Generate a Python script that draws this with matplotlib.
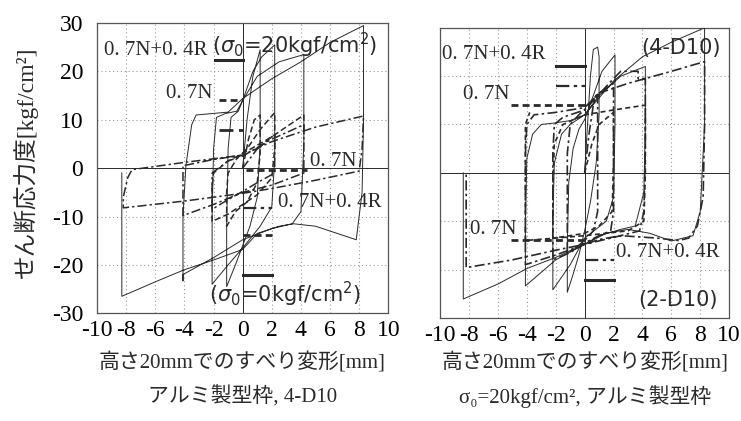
"""Shear stress vs slip hysteresis loops, two panels (aluminium formwork)."""

import matplotlib

matplotlib.use("Agg")
import matplotlib.pyplot as plt

plt.rcParams["axes.unicode_minus"] = False

INK = "#2a2a2a"
GRID = "#9a9a9a"
SERIF_JP = ["Liberation Serif", "DejaVu Serif", "Noto Sans CJK JP"]

X_TICKS = [-10, -8, -6, -4, -2, 0, 2, 4, 6, 8, 10]
X_TICK_LABELS = ["-10", "-8", "-6", "-4", "-2", "0", "2", "4", "6", "8", "10"]
Y_TICKS = [-30, -20, -10, 0, 10, 20, 30]
Y_TICK_LABELS = ["-30", "-20", "-10", "0", "10", "20", "30"]

# left panel, thin solid loops (sigma0 = 20, 0.7N+0.4R)
LEFT_SOLID = [
    (0, 0), (0.3, 10), (0.7, 19), (1.2, 24.5),
    (1.2, 5), (1.0, -6), (0.5, -12), (0, -16), (-0.5, -20), (-1.1, -24.5),
    (-1.1, -12), (-1.0, 4), (-0.8, 10.5), (-0.3, 11.8), (0, 14), (0.7, 20),
    (1.3, 23), (2.2, 25.5),
    (2.2, 2), (2.0, -8), (1.2, -12), (0, -16.5), (-1.0, -20), (-2.1, -24),
    (-2.1, -10), (-2.0, 4), (-1.8, 10.5), (-1.2, 11.3), (-0.4, 11.8), (0, 14),
    (1.0, 19), (2.5, 22), (4.2, 23.5),
    (4.2, 5), (4.0, -9), (3.4, -11.5), (2.0, -12.5), (0, -14.8), (-2.0, -18.5),
    (-4.1, -22), (-4.1, -23.3),
    (-4.1, -10), (-3.9, 0.5), (-3.5, 9), (-3.2, 11), (-2.1, 11.3), (-1.0, 11.6),
    (0, 14.4), (2, 18.5), (4, 22), (6, 26), (8.3, 29.5),
    (8.3, 10), (8.2, -5), (7.8, -14.8), (6.5, -13.5), (5.0, -12), (3.5, -11.5),
    (2.5, -12), (1.0, -13.5), (0, -16.8), (-2, -19), (-4, -21), (-6, -23.5),
    (-8.3, -26.5),
    (-8.3, -12), (-8.3, -1),
]

# left panel, flat dash-dot loops
LEFT_DASHDOT = [
    (0, 0), (1.0, 4), (2.2, 7),
    (2.2, -1), (1.0, -3), (0, -4.8), (-1.0, -6.5), (-2.1, -8.5),
    (-2.1, -1), (-1.0, 1.5), (0, 2.5), (2.0, 6), (4.2, 9),
    (4.2, -1), (2.0, -3.5), (0, -5), (-2.0, -7.5), (-4.1, -9.8),
    (-4.1, 0.5), (-2.0, 1.8), (0, 2.7), (2.0, 5.5), (5.0, 8.5), (8.3, 10.8),
    (8.2, 4), (8.0, -0.6), (5.0, -2.5), (2.0, -4.2), (0, -5.2), (-4.0, -6.8),
    (-8.2, -8.2),
    (-8.2, -6), (-7.9, -2), (-7.6, -0.3), (-4.0, 1.2), (0, 2.7),
]

# left panel, medium dashed loops
LEFT_DASH = [
    (0, 0), (0.4, 6), (0.8, 10), (1.2, 11),
    (1.2, 3), (1.0, -3), (0.3, -7), (-0.5, -9), (-1.1, -12),
    (-1.1, -5), (-1.0, -1), (-0.4, 2), (0.3, 4), (1.2, 8), (2.2, 11.5),
    (2.2, 4), (2.0, -2), (1.0, -5.5), (0, -7.5), (-1.0, -9.5), (-2.1, -11),
    (-2.1, -4), (-2.0, -1), (-1.0, 1.5), (0, 3), (2, 6.5), (4.2, 11),
    (4.2, 7),
]

# right panel, thin solid loops
RIGHT_SOLID = [
    (0, 0), (0.2, 10), (0.4, 20), (0.6, 25.5), (0.9, 26), (1.0, 24),
    (1.0, 12), (0.8, 2), (0.4, -6), (0, -12), (-0.4, -17), (-0.8, -21),
    (-1.2, -24.7),
    (-1.2, -15), (-1.1, -2), (-0.8, 5), (-0.4, 9), (0, 11), (0.6, 16),
    (1.2, 21), (2.1, 24.4),
    (2.1, 10), (2.0, -5), (1.5, -10), (0, -13.5), (-1.0, -19), (-2.2, -24.2),
    (-2.2, -10), (-2.1, 2), (-1.6, 8), (-1.0, 10), (0, 12), (1.0, 16),
    (2.5, 20), (4.2, 22),
    (4.2, 10), (4.1, -4), (3.5, -11), (2.5, -11.7), (1.0, -13), (0, -14.8),
    (-2.0, -18), (-4.1, -23.4),
    (-4.1, -10), (-4.0, 3), (-3.6, 8), (-3.0, 10), (-2.1, 10.3), (-1.0, 10.8),
    (0, 12), (2, 19), (4, 24), (6, 27), (8.3, 30),
    (8.3, 10), (8.0, -8), (7.5, -13), (6.0, -14.1), (4.5, -12.5), (3.0, -11.7),
    (1.5, -12.5), (0, -14.8), (-2, -17.5), (-4, -19.8), (-6, -23),
    (-8.4, -26.1),
    (-8.4, -14), (-8.4, 0),
]

# right panel, dash-dot slip loops
RIGHT_DASHDOT = [
    (0, 0), (0.3, 8), (0.6, 14), (0.8, 16), (0.9, 15),
    (0.9, 4), (0.9, -8), (0.6, -12), (0, -14), (-0.6, -15.5), (-1.2, -16.5),
    (-1.2, -8), (-1.2, 4), (-1.0, 10), (-0.4, 12), (0, 13), (0.8, 16),
    (2.0, 18.5),
    (2.0, 6), (2.0, -8), (1.8, -12), (1.0, -13), (0, -14.5), (-1.0, -16.5),
    (-2.2, -18),
    (-2.2, -8), (-2.2, 4), (-2.1, 10), (-1.5, 11.5), (0, 13), (2.0, 19.5),
    (2.5, 21), (3.7, 21), (3.7, 19.5), (4.2, 19.5),
    (4.2, 5), (4.1, -8), (3.8, -12), (2.5, -13), (0, -14.8), (-2, -17),
    (-4.1, -19),
    (-4.1, -8), (-4.1, 4), (-4.0, 10), (-3.5, 12), (-2, 12.5), (0, 13.5),
    (1, 16.5), (3, 18.5), (6, 21), (8.3, 23),
    (8.3, 10), (8.2, -5), (7.8, -11), (7.2, -13.5), (6.5, -14), (5, -13.5),
    (2.5, -13), (1, -13.8), (0, -14.8), (-2, -16), (-5, -18), (-8.2, -19.6),
    (-8.2, -8), (-8.2, 0),
]

# right panel, dashed loops
RIGHT_DASH = [
    (0, 0), (0.5, 6), (1.0, 10), (2.0, 12.5),
    (2.0, 2), (1.9, -8), (1.0, -11), (0, -12.5), (-1, -13), (-2.2, -13.5),
    (-2.2, -3), (-2.1, 6), (-1.5, 10), (0, 12), (2, 13), (4.2, 14),
    (4.2, 0), (4.1, -10), (3, -12), (0, -13), (-2, -13.5), (-4.1, -14),
    (-4.1, 0), (-4.1, 10), (-3.8, 12.5),
]

THICK = dict(linestyle="-", linewidth=2.2)
DASH = dict(linestyle=(0, (2.5, 1.5)), linewidth=2.0)
LONGDASH = dict(linestyle=(0, (5, 2)), linewidth=2.0)
DASHDOT = dict(linestyle=(0, (6, 2, 1.5, 2)), linewidth=1.6)

# legend keys drawn inside the panels: (x0, x1, y, style)
LEFT_KEYS = [
    (-1.9, 0, 22.3, THICK),
    (-1.6, 0, 14.1, DASH),
    (-1.6, 0, 7.9, LONGDASH),
    (0.2, 4.4, -0.3, DASH),
    (0, 2, -8.2, DASHDOT),
    (0, 2, -13.8, DASH),
    (0, 2, -22, THICK),
]
RIGHT_KEYS = [
    (-2, 0, 22.1, THICK),
    (-2, 0, 18, DASHDOT),
    (-5.1, 0, 14, DASH),
    (-5.1, 0, -13.8, DASH),
    (0, 2, -18, DASHDOT),
    (0, 2, -22.2, THICK),
]


def draw_path(ax, pts, **kw):
    xs = [p[0] for p in pts]
    ys = [p[1] for p in pts]
    ax.plot(xs, ys, color=INK, zorder=3, **kw)


def style_axes(ax, ylabels=True):
    ax.set_xlim(-10, 10)
    ax.set_ylim(-30, 30)
    ax.set_xticks(X_TICKS)
    ax.set_xticklabels(X_TICK_LABELS, family=SERIF_JP, fontsize=17)
    ax.set_yticks(Y_TICKS)
    if ylabels:
        ax.set_yticklabels(Y_TICK_LABELS, family=SERIF_JP, fontsize=17)
    else:
        ax.set_yticklabels([])
    ax.tick_params(length=0)
    ax.tick_params(axis="x", pad=5)
    ax.tick_params(axis="y", pad=10)
    ax.grid(True, linestyle=(0, (1, 2.5)), color=GRID, linewidth=0.8)
    ax.axhline(0, color=INK, linewidth=0.7, zorder=2)
    ax.axvline(0, color=INK, linewidth=0.7, zorder=2)
    for sp in ax.spines.values():
        sp.set_color("#555555")
        sp.set_linewidth(0.9)


def draw_keys(ax, keys):
    for x0, x1, y, st in keys:
        ax.plot([x0, x1], [y, y], color=INK, zorder=4, **st)


def make_plot() -> None:
    fig = plt.figure(figsize=(7.41, 4.21), dpi=100)
    ax1 = fig.add_axes([0.131, 0.256, 0.393, 0.689])
    ax2 = fig.add_axes([0.594, 0.245, 0.390, 0.689])

    style_axes(ax1)
    style_axes(ax2, ylabels=False)

    draw_path(ax1, LEFT_SOLID, linewidth=0.7)
    draw_path(ax1, LEFT_DASHDOT, linestyle=(0, (6, 2, 1.5, 2)), linewidth=1.1)
    draw_path(ax1, LEFT_DASH, linestyle=(0, (4, 2)), linewidth=1.1)
    draw_keys(ax1, LEFT_KEYS)

    draw_path(ax2, RIGHT_SOLID, linewidth=0.7)
    draw_path(ax2, RIGHT_DASHDOT, linestyle=(0, (6, 2, 1.5, 2)), linewidth=1.2)
    draw_path(ax2, RIGHT_DASH, linestyle=(0, (3, 2)), linewidth=1.2)
    draw_keys(ax2, RIGHT_KEYS)

    lab = dict(family=SERIF_JP, fontsize=15, color=INK, zorder=5)
    sans = dict(fontsize=15, color=INK, zorder=5)

    ax1.text(-9.5, 24.4, "0. 7N+0. 4R", va="center", ha="left", **lab)
    ax1.text(-2.1, 25.4, r"($\sigma_0$=20kgf/cm$^2$)", va="center", ha="left", **sans)
    ax1.text(-5.3, 15.5, "0. 7N", va="center", ha="left", **lab)
    ax1.text(4.6, 1.4, "0. 7N", va="center", ha="left", **lab)
    ax1.text(2.4, -7.2, "0. 7N+0. 4R", va="center", ha="left", **lab)
    ax1.text(-2.3, -26.1, r"($\sigma_0$=0kgf/cm$^2$)", va="center", ha="left", **sans)

    ax2.text(-9.9, 24.4, "0. 7N+0. 4R", va="center", ha="left", **lab)
    ax2.text(-8.4, 16.1, "0. 7N", va="center", ha="left", **lab)
    ax2.text(3.9, 25.8, "(4-D10)", va="center", ha="left", **sans)
    ax2.text(-7.9, -11.7, "0. 7N", va="center", ha="left", **lab)
    ax2.text(2.2, -16.5, "0. 7N+0. 4R", va="center", ha="left", **lab)
    ax2.text(3.7, -26.4, "(2-D10)", va="center", ha="left", **sans)

    jp = dict(family=SERIF_JP, fontsize=15, color=INK, ha="center", va="center")
    fig.text(0.034, 0.615, "せん断応力度[kgf/cm²]", rotation=90,
             family=SERIF_JP, fontsize=17, color=INK, ha="center", va="center")
    fig.text(0.327, 0.138, "高さ20mmでのすべり変形[mm]", **jp)
    fig.text(0.327, 0.057, "アルミ製型枠, 4-D10", **jp)
    fig.text(0.789, 0.138, "高さ20mmでのすべり変形[mm]", **jp)
    fig.text(0.789, 0.057, "σ₀=20kgf/cm², アルミ製型枠", **jp)

    fig.savefig("out.png", dpi=100, facecolor="white")
    plt.close(fig)


if __name__ == "__main__":
    make_plot()
